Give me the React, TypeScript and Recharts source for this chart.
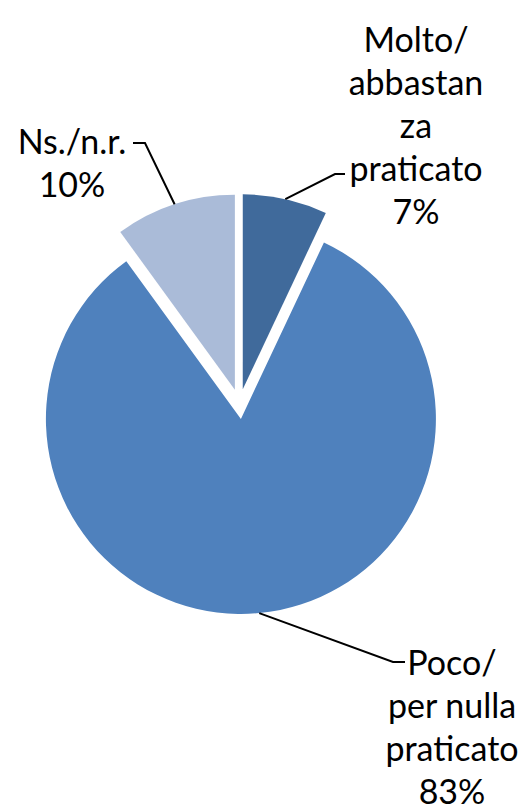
import React from "react";
import { PieChart, Pie, Cell, Sector } from "recharts";

const categories = ["Molto/abbastanza praticato", "Poco/per nulla praticato", "Ns./n.r."];
const labelLines = [
  ["Molto/", "abbastan", "za", "praticato"],
  ["Poco/", "per nulla", "praticato"],
  ["Ns./n.r."],
];
const values = [7, 83, 10];
const colors = ["#406A9B", "#4F81BD", "#AABBD8"];

const data = categories.map((name, i) => ({ name, value: values[i] }));

const RAD = Math.PI / 180;
const EXPLODE = 15;
const FONT = "Lato, 'Open Sans', sans-serif";
const FONT_SIZE = 34;
const LINE_H = 43;

// layout of the data labels (elbow point, line end, text centre x, first line centre y)
const labelLayout = [
  { elbow: [335, 174], end: [345, 174], tx: 416, ty: 38 },
  { elbow: [393, 662], end: [405, 662], tx: 452, ty: 661 },
  { elbow: [145, 143], end: [133, 143], tx: 72, ty: 140 },
];

const explodedCenter = (cx: number, cy: number, midAngle: number) => ({
  x: cx + EXPLODE * Math.cos(-midAngle * RAD),
  y: cy + EXPLODE * Math.sin(-midAngle * RAD),
});

const renderShape = (props: any) => {
  const { cx, cy, midAngle, innerRadius, outerRadius, startAngle, endAngle, fill } = props;
  const c = explodedCenter(cx, cy, midAngle);
  return (
    <Sector
      cx={c.x}
      cy={c.y}
      innerRadius={innerRadius}
      outerRadius={outerRadius}
      startAngle={startAngle}
      endAngle={endAngle}
      fill={fill}
      stroke="none"
    />
  );
};

const renderLabel = (props: any) => {
  const { cx, cy, midAngle, outerRadius, index, value } = props;
  const c = explodedCenter(cx, cy, midAngle);
  const sx = c.x + outerRadius * Math.cos(-midAngle * RAD);
  const sy = c.y + outerRadius * Math.sin(-midAngle * RAD);
  const L = labelLayout[index];
  const lines = [...labelLines[index], `${value}%`];
  return (
    <g key={`lbl-${index}`}>
      <polyline
        points={`${sx},${sy} ${L.elbow[0]},${L.elbow[1]} ${L.end[0]},${L.end[1]}`}
        fill="none"
        stroke="#000"
        strokeWidth={2}
      />
      <text
        x={L.tx}
        y={L.ty}
        textAnchor="middle"
        fontFamily={FONT}
        fontSize={FONT_SIZE}
        fill="#000"
      >
        {lines.map((ln, i) => (
          <tspan key={i} x={L.tx} y={L.ty + i * LINE_H} dominantBaseline="central">
            {ln}
          </tspan>
        ))}
      </text>
    </g>
  );
};

export default function App() {
  return (
    <div style={{ position: "absolute", left: 0, top: 0, width: 524, height: 806, background: "#fff" }}>
      <PieChart width={524} height={806} margin={{ top: 0, right: 0, bottom: 0, left: 0 }}>
        <Pie
          data={data}
          dataKey="value"
          nameKey="name"
          cx={239.5}
          cy={404}
          outerRadius={195}
          startAngle={90}
          endAngle={-270}
          isAnimationActive={false}
          shape={renderShape}
          activeShape={renderShape}
          label={renderLabel}
          labelLine={false}
          stroke="none"
        >
          {data.map((d, i) => (
            <Cell key={d.name} fill={colors[i]} />
          ))}
        </Pie>
      </PieChart>
    </div>
  );
}
